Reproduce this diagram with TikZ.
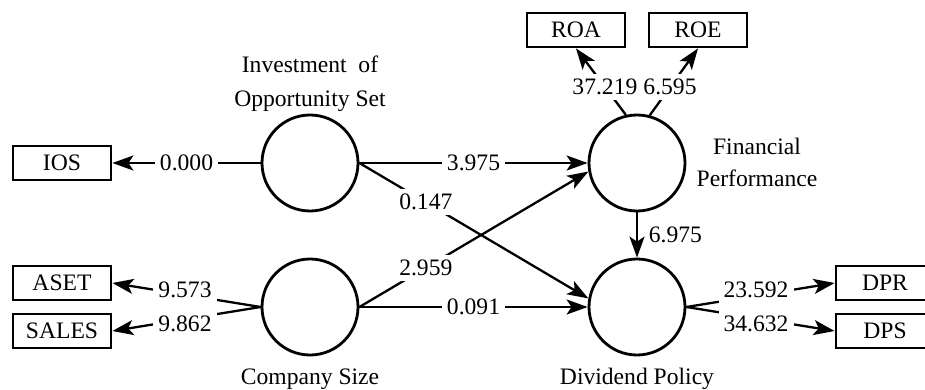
\documentclass[tikz,border=0pt]{standalone}
\usepackage{fontspec}
\setmainfont{Liberation Serif}
\usetikzlibrary{arrows.meta}
\begin{document}
\begin{tikzpicture}[x=0.5pt,y=-0.5pt,
	font=\fontsize{11.8}{16.5}\selectfont,
	ind/.style={draw,line width=1.4pt,minimum width=49pt,minimum height=17pt,inner sep=0pt},
	lat/.style={draw,circle,line width=1.4pt,minimum size=48pt,inner sep=0pt},
	load/.style={line width=1.15pt,-{Stealth[length=10.5pt,width=7.5pt,inset=2.5pt]}},
	val/.style={fill=white,inner sep=2.5pt}]
	\useasboundingbox (0,0) rectangle (925,390);
	\clip (0,0) rectangle (925,390);
	\node[lat] (IOSc) at (310,163) {};
	\node[lat] (CS) at (310,307) {};
	\node[lat] (FP) at (637,163) {};
	\node[lat] (DP) at (637,307) {};
	\node[ind] (IOS) at (62,163) {IOS};
	\node[ind] (ASET) at (62,283) {ASET};
	\node[ind] (SALES) at (62,331) {SALES};
	\node[ind] (ROA) at (576,30) {ROA};
	\node[ind] (ROE) at (698,30) {ROE};
	\node[ind] (DPR) at (885,283) {DPR};
	\node[ind] (DPS) at (885,331) {DPS};
	\node[align=center] (IOSt) at (310,84) {Investment\ \ of\\[0.5pt]Opportunity Set};
	\node[align=center] (FPt) at (757,162) {Financial\\[-0.5pt]Performance};
	\node[anchor=base] (CSt) at (310,384) {Company Size};
	\node[anchor=base] (DPt) at (637,384) {Dividend Policy};
	\draw[load] (IOSc.west) -- node[val]{0.000} (IOS.east);
	\draw[load] (CS.west) -- node[val,pos=.51,yshift=2.5pt]{9.573} (ASET.east);
	\draw[load] (CS.west) -- node[val,pos=.51,yshift=-2.5pt]{9.862} (SALES.east);
	\draw[load] (IOSc.east) -- node[val]{3.975} (FP.west);
	\draw[load] (IOSc.east) -- node[val,pos=.29]{0.147} (DP.170);
	\draw[load] (CS.east) -- node[val,pos=.29]{2.959} (FP.190);
	\draw[load] (CS.east) -- node[val]{0.091} (DP.west);
	\draw[load] (FP.103) -- node[val,pos=.42]{37.219} (ROA.south);
	\draw[load] (FP.75) -- node[val,pos=.42]{6.595} (ROE.south);
	\draw[load] (FP.south) -- node[right,xshift=2pt]{6.975} (DP.north);
	\draw[load] (DP.east) -- node[val,pos=.47,yshift=2.8pt]{23.592} (DPR.west);
	\draw[load] (DP.east) -- node[val,pos=.47,yshift=-3pt]{34.632} (DPS.west);
\end{tikzpicture}
\end{document}
